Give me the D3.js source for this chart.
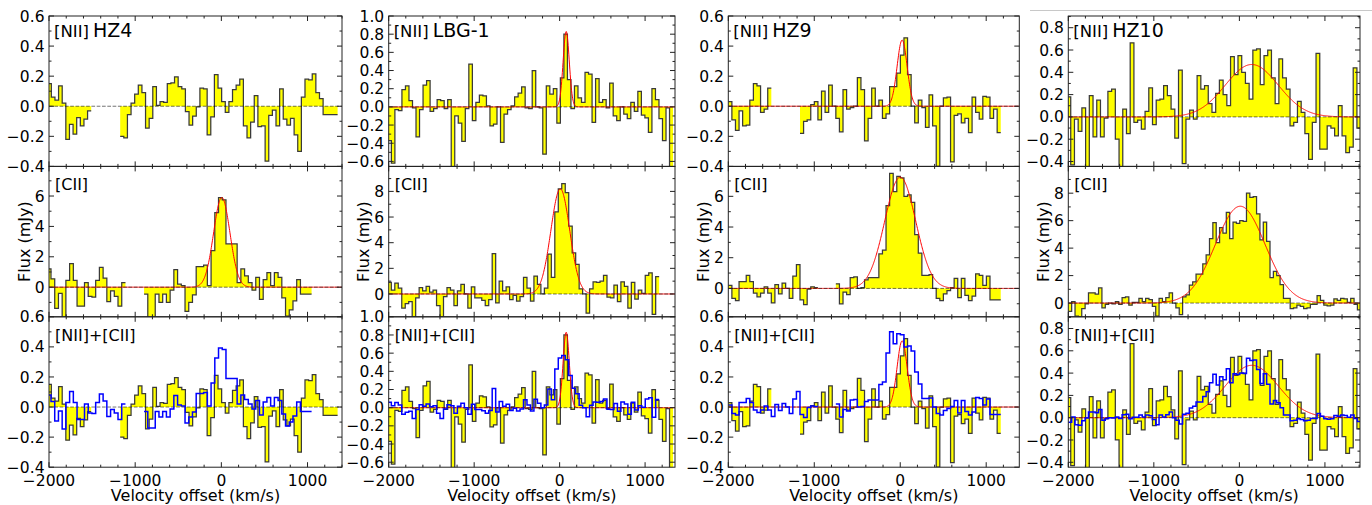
<!DOCTYPE html>
<html>
<head>
<meta charset="utf-8">
<script src="https://cdn.jsdelivr.net/npm/d3@7"></script>
<style>
body { margin: 0; background: #fff; }
text { font-family: "DejaVu Sans", sans-serif; fill: #000; }
</style>
</head>
<body>
<svg id="chart" width="1372" height="505"></svg>
<script>
// sources, one column each
var sources = ["HZ4", "LBG-1", "HZ9", "HZ10"];
var xMax = [1400, 1350, 1385, 1410];

// [NII] spectra (mJy), one value per channel, null = no data
var hz4Nii = [0.15, 0.06, 0.04, 0.135, 0.02, -0.22, -0.12, -0.185, -0.075, -0.13, -0.085, -0.03,
  null, null, null, null, null, null, null, null,
  -0.2, -0.21, -0.055, 0.02, 0.08, 0.14, 0.09, -0.145, -0.08, 0.13, 0.005, 0.03, 0.025, 0.15, 0.155,
  0.195, 0.13, 0.115, -0.035, -0.125, -0.065, -0.005, 0.12, 0.115, -0.19, -0.07, 0.21, 0.12, 0.03,
  -0.04, 0.03, 0.11, 0.14, 0.18, -0.13, -0.21, -0.105, 0.07, -0.135, -0.13, -0.365, -0.06, -0.025,
  -0.13, 0.115, -0.085, -0.125, -0.08, -0.19, -0.3, 0.06, 0.18, 0.175, 0.215, 0.09, 0.05, -0.055,
  -0.055, -0.055, -0.055];
var lbg1Nii = [-0.37, -0.62, -0.03, -0.04, 0.19, 0.23, 0.07, -0.01, -0.33, -0.03, 0.24, 0.29, -0.05,
  -0.02, 0.08, 0.07, -0.02, 0.08, -0.67, -0.1, -0.18, -0.38, -0.02, 0.47, -0.15, 0.05, 0.13, 0.12,
  0.01, -0.21, -0.19, 0.0, -0.39, -0.08, -0.03, 0.01, 0.11, 0.15, 0.22, -0.01, -0.02, 0.4, 0.0,
  -0.01, -0.52, 0.23, 0.14, 0.2, -0.18, 0.32, 0.8, 0.3, -0.02, 0.23, 0.1, 0.05, 0.38, 0.36, -0.17,
  0.31, 0.05, 0.08, -0.01, 0.26, -0.1, -0.15, 0.0, -0.08, -0.13, 0.05, -0.05, 0.17, -0.09, -0.12,
  -0.28, 0.2, 0.08, -0.13, -0.37, -0.01, -0.68];
var hz9Nii = [0.03, -0.09, -0.16, -0.03, -0.13, -0.125, 0.04, 0.15, 0.135, -0.04, -0.02, 0.12,
  null, null, null, null, null, null, null, null,
  -0.18, -0.1, -0.09, 0.01, 0.03, -0.09, 0.1, -0.04, 0.14, 0.0, -0.08, -0.17, 0.11, -0.02, -0.01,
  0.0, 0.19, 0.11, -0.23, -0.08, 0.12, 0.0, 0.04, -0.08, -0.05, 0.13, 0.13, 0.22, 0.34, 0.455,
  0.21, 0.0, -0.11, 0.04, -0.01, -0.14, 0.075, -0.13, -0.4, 0.0, 0.055, 0.06, -0.37, -0.06, -0.05,
  -0.11, -0.08, -0.175, 0.06, -0.04, -0.085, 0.065, 0.06, -0.08, -0.02, -0.175];
var hz10Nii = [0.18, -0.43, -0.02, -0.13, 0.08, -0.46, 0.19, -0.18, 0.15, -0.18, -0.01, 0.23, 0.25,
  -0.2, -0.46, 0.07, -0.15, 0.665, -0.05, -0.03, -0.11, 0.05, 0.26, -0.07, 0.15, 0.16, 0.28, 0.19,
  0.07, -0.19, 0.42, -0.42, -0.02, 0.06, -0.02, 0.37, 0.25, 0.28, 0.12, 0.04, 0.21, 0.33, 0.2, 0.1,
  0.54, 0.38, 0.55, 0.4, 0.3, 0.16, 0.6, 0.61, 0.29, 0.55, 0.6, 0.35, 0.12, 0.52, 0.35, 0.25, -0.08,
  -0.05, 0.14, 0.04, -0.15, -0.38, -0.05, 0.57, -0.29, -0.29, -0.08, -0.1, -0.17, 0.1, -0.17, -0.32,
  -0.27, 0.44, -0.1];

// [CII] spectra (mJy)
var hz4Cii = [1.2, 0.55, -1.4, -0.4, -2.2, 0.45, 1.55, 0.45, -1.25, -1.25, 0.3, -0.6, -0.65, 0.45,
  1.3, 0.6, -0.95, -0.25, -0.6, -1.25, 0.3,
  null, null, null, null, null,
  -0.45, -2.1, -2.1, -0.45, -1.0, -0.45, -1.0, -0.2, 1.15, 0.2, 0.1, -1.6, -1.0, -0.5, 1.35, 1.35,
  1.45, 0.1, 2.4, 4.9, 5.9, 5.75, 2.85, 2.85, 2.85, 0.3, 1.2, 0.75, 0.3, -0.2, 0.65, -0.8, 0.5, 0.95,
  0.1, 0.95, 0.65, -0.7, -1.9, -1.5, -0.9, 0.5, -0.45, -0.45, -0.45];
var lbg1Cii = [0.9, 0.3, 0.85, 0.45, -1.1, -0.75, -0.6, -1.8, -0.3, 0.5, 0.25, 0.6, 0.15, 0.3, -0.9,
  -1.8, -0.2, 0.5, 0.3, -0.9, 0.25, 0.75, 0.0, -1.1, 0.55, -0.3, -0.3, -0.5, -0.9, -0.45, 3.15, -0.7,
  1.0, 0.25, 0.55, -0.45, -0.1, -0.55, -0.2, 1.3, 0.45, -0.55, 1.4, 0.75, 0.0, 0.45, 3.1, 1.3, 6.4,
  8.2, 8.6, 7.9, 5.3, 3.2, 2.3, 0.4, 0.0, -1.5, 0.4, 0.95, 0.9, 1.0, 1.45, -0.25, -0.3, 0.7, -0.6,
  0.95, 0.6, -1.1, 0.9, -0.4, 0.3, 0.05, 1.45, 1.65, -1.6, 1.35];
var hz9Cii = [0.2, -0.65, -0.8, 0.45, 0.45, 0.85, 0.45, -0.3, -0.55, -0.3, 0.1, -0.3, -0.95, 0.25,
  -0.35, 0.35, 0.0, -0.65, 0.8, 1.55, -0.75, -1.05, -0.05, 0.1, 0.05,
  null, null, null, null, null,
  0.3, -1.0, -0.25, -0.4, 0.7, 0.75, 0.0, 0.05, 0.55, 0.7, 0.7, 0.7, 2.25, 2.5, 5.4, 7.5, 6.3, 7.3,
  7.2, 6.0, 6.1, 5.6, 3.5, 2.3, 0.85, 0.85, 0.9, 0.0, -0.65, -0.8, -0.35, -0.15, 0.05, 0.65, -0.6,
  0.65, -0.45, -0.8, -0.5, 0.95, 0.85, 0.2, 0.8, -0.75, -0.75, -0.75];
var hz10Cii = [-0.6, 0.1, -0.95, -1.0, -0.4, -0.05, 0.75, 0.75, 0.65, 1.1, -0.35, -0.1, 0.0, -0.05,
  0.1, -0.1, 0.4, 0.45, -0.15, 0.05, 0.05, 0.35, 0.1, 0.35, 0.25, -0.25, -0.95, 0.35, 0.1, 0.4, 0.75,
  0.0, -0.35, -0.85, 0.45, 0.6, 1.3, 1.55, 2.1, 2.1, 2.85, 3.5, 4.7, 5.85, 4.4, 5.5, 5.1, 6.6, 4.7,
  5.9, 5.8, 6.0, 5.95, 8.0, 7.7, 7.75, 6.5, 4.6, 5.9, 4.5, 1.85, 2.3, 2.0, 1.35, 0.35, 0.35, -0.4,
  -0.35, -0.15, -0.25, -0.4, -0.35, -0.1, -0.1, 0.55, 0.2, -0.15, -0.2, -0.15, 0.3, 0.2, 0.35, 0.3,
  0.05, 0.35, -0.1, -0.5];

var niiSpectra = [hz4Nii, lbg1Nii, hz9Nii, hz10Nii];
var ciiSpectra = [hz4Cii, lbg1Cii, hz9Cii, hz10Cii];

// channel grid (km/s): first channel start and channel width
var niiStart = [-2015, -2010, -2000, -2015];
var niiWidth = [42.05, 41.2, 41.7, 43.45];
var ciiStart = [-2020, -2010, -2000, -2000];
var ciiWidth = [43.2, 40.7, 41.7, 39.3];

// gaussian fits: [peak, centre, sigma]
var niiFit = [null, [0.83, 77, 36], [0.44, 22, 58], [0.47, 145, 310]];
var ciiFit = [[5.9, 5, 95], [8.2, 8, 110], [7.25, 0, 180], [7.05, 10, 290]];

// [CII] overplotted on [NII] scale
var ciiScale = 1 / 15;

// y ranges and ticks
var niiRange = [[-0.4, 0.6], [-0.655, 1.0], [-0.4, 0.6], [-0.444, 0.905]];
var ciiRange = [[-1.95, 7.95], [-1.78, 9.95], [-1.85, 7.95], [-1.0, 9.95]];
var niiTick = [0.2, 0.1];
var ciiTick = [2, 1];
var xTick = [1000, 200];

var svg = d3.select("#chart");
var colLeft = [49, 388.7, 728.3, 1068.3];
var colRight = [342, 675, 1019.3, 1360];
var rowTop = [16, 166.4, 316.8];
var rowH = 150.4;

function tickValues(domain, step) {
    var out = [];
    var k0 = Math.ceil(domain[0] / step - 1e-6), k1 = Math.floor(domain[1] / step + 1e-6);
    for (var k = k0; k <= k1; k++) out.push(+(k * step).toFixed(6));
    return out;
}

function stepPaths(vals, start, w, x, y) {
    var fill = "", line = "";
    var i = 0;
    while (i < vals.length) {
        if (vals[i] == null) { i++; continue; }
        var f = "M" + x(start + i * w) + "," + y(0);
        var l = "M" + x(start + i * w) + "," + y(vals[i]);
        var j = i;
        while (j < vals.length && vals[j] != null) {
            var x0 = x(start + j * w), x1 = x(start + (j + 1) * w), yy = y(vals[j]);
            f += "L" + x0 + "," + yy + "L" + x1 + "," + yy;
            l += "L" + x0 + "," + yy + "L" + x1 + "," + yy;
            j++;
        }
        f += "L" + x(start + j * w) + "," + y(0) + "Z";
        fill += f;
        line += l;
        i = j;
    }
    return { fill: fill, line: line };
}

function gaussPath(p, x, y, dom) {
    var pts = [];
    for (var v = dom[0]; v <= dom[1]; v += 4) {
        pts.push([v, p[0] * Math.exp(-0.5 * Math.pow((v - p[1]) / p[2], 2))]);
    }
    return d3.line().x(function (d) { return x(d[0]); }).y(function (d) { return y(d[1]); })(pts);
}

function drawPanel(c, r) {
    var x0 = colLeft[c], x1 = colRight[c], y0 = rowTop[r], y1 = y0 + rowH;
    var yDom = r == 1 ? ciiRange[c] : niiRange[c];
    var yStep = r == 1 ? ciiTick : niiTick;
    var x = d3.scaleLinear().domain([-2000, xMax[c]]).range([x0, x1]);
    var y = d3.scaleLinear().domain(yDom).range([y1, y0]);
    var id = "clip" + c + r;

    svg.append("clipPath").attr("id", id).append("rect")
        .attr("x", x0).attr("y", y0).attr("width", x1 - x0).attr("height", rowH);
    var g = svg.append("g").attr("clip-path", "url(#" + id + ")");

    var spec = r == 1 ? ciiSpectra[c] : niiSpectra[c];
    var s0 = r == 1 ? ciiStart[c] : niiStart[c];
    var sw = r == 1 ? ciiWidth[c] : niiWidth[c];
    var p = stepPaths(spec, s0, sw, x, y);
    g.append("path").attr("d", p.fill).attr("fill", "#ffff00").attr("stroke", "none");
    g.append("path").attr("d", p.line).attr("fill", "none")
        .attr("stroke", "#3a3a3a").attr("stroke-width", 1.25);

    var fit = r == 1 ? ciiFit[c] : niiFit[c];
    if (fit) {
        g.append("path").attr("d", gaussPath(fit, x, y, [-2000, xMax[c]]))
            .attr("fill", "none").attr("stroke", "#ff0000").attr("stroke-width", 1);
    }
    g.append("line")
        .attr("x1", x0).attr("x2", x1).attr("y1", y(0)).attr("y2", y(0))
        .attr("stroke", "#000").attr("stroke-opacity", 0.55).attr("stroke-width", 1)
        .attr("stroke-dasharray", "3.7,1.6");

    if (r == 2) {
        var scaled = ciiSpectra[c].map(function (v) { return v == null ? null : v * ciiScale; });
        var b = stepPaths(scaled, ciiStart[c], ciiWidth[c], x, y);
        g.append("path").attr("d", b.line).attr("fill", "none")
            .attr("stroke", "#0000ff").attr("stroke-width", 1.5);
    }

    // frame
    svg.append("rect")
        .attr("x", x0).attr("y", y0).attr("width", x1 - x0).attr("height", rowH)
        .attr("fill", "none").attr("stroke", "#222").attr("stroke-width", 1);

    // ticks, inward on all sides
    var tk = svg.append("g").attr("stroke", "#222").attr("stroke-width", 1);
    tickValues([-2000, xMax[c]], xTick[1]).forEach(function (v) {
        var major = Math.abs(v % xTick[0]) < 1e-6, len = major ? 5 : 2.5;
        tk.append("line").attr("x1", x(v)).attr("x2", x(v)).attr("y1", y1).attr("y2", y1 - len);
        tk.append("line").attr("x1", x(v)).attr("x2", x(v)).attr("y1", y0).attr("y2", y0 + len);
    });
    tickValues(yDom, yStep[1]).forEach(function (v) {
        var q = v / yStep[0], major = Math.abs(q - Math.round(q)) < 1e-6, len = major ? 5 : 2.5;
        tk.append("line").attr("x1", x0).attr("x2", x0 + len).attr("y1", y(v)).attr("y2", y(v));
        tk.append("line").attr("x1", x1).attr("x2", x1 - len).attr("y1", y(v)).attr("y2", y(v));
    });

    var fmt = r == 1 ? d3.format("d") : d3.format(".1f");
    svg.append("g").selectAll("text")
        .data(tickValues(yDom, yStep[0]))
        .enter().append("text")
        .attr("x", x0 - 4.5).attr("y", function (d) { return y(d); })
        .attr("dy", "0.36em").attr("text-anchor", "end")
        .style("font-size", "15.5px")
        .text(function (d) { return fmt(d); });

    if (r == 2) {
        svg.append("g").selectAll("text")
            .data(tickValues([-2000, xMax[c]], xTick[0]))
            .enter().append("text")
            .attr("x", function (d) { return x(d); }).attr("y", y1 + 18.5)
            .attr("text-anchor", "middle").style("font-size", "15.5px")
            .text(function (d) { return d3.format("d")(d); });
        svg.append("text")
            .attr("x", (x0 + x1) / 2).attr("y", 501)
            .attr("text-anchor", "middle").style("font-size", "16px")
            .text("Velocity offset (km/s)");
    }
    if (r == 1) {
        svg.append("text")
            .attr("transform", "translate(" + (x0 - 19.5) + "," + (y0 + rowH / 2) + ") rotate(-90)")
            .attr("text-anchor", "middle").style("font-size", "16px")
            .text("Flux (mJy)");
    }

    if (r == 0) {
        var t = svg.append("text").attr("x", x0 + 5).attr("y", y0 + 20.5);
        t.append("tspan").style("font-size", "16.5px").text("[NII]");
        t.append("tspan").attr("dx", 4).style("font-size", "19px").text(sources[c]);
    } else {
        svg.append("text").attr("x", x0 + 6).attr("y", y0 + 24)
            .style("font-size", "16px")
            .text(r == 1 ? "[CII]" : "[NII]+[CII]");
    }
}

// faint line above the last column
svg.append("line")
    .attr("x1", 1030).attr("x2", 1372).attr("y1", 10.5).attr("y2", 10.5)
    .attr("stroke", "#c8c8c8").attr("stroke-width", 1);

for (var c = 0; c < 4; c++) {
    for (var r = 0; r < 3; r++) drawPanel(c, r);
}
</script>
</body>
</html>
